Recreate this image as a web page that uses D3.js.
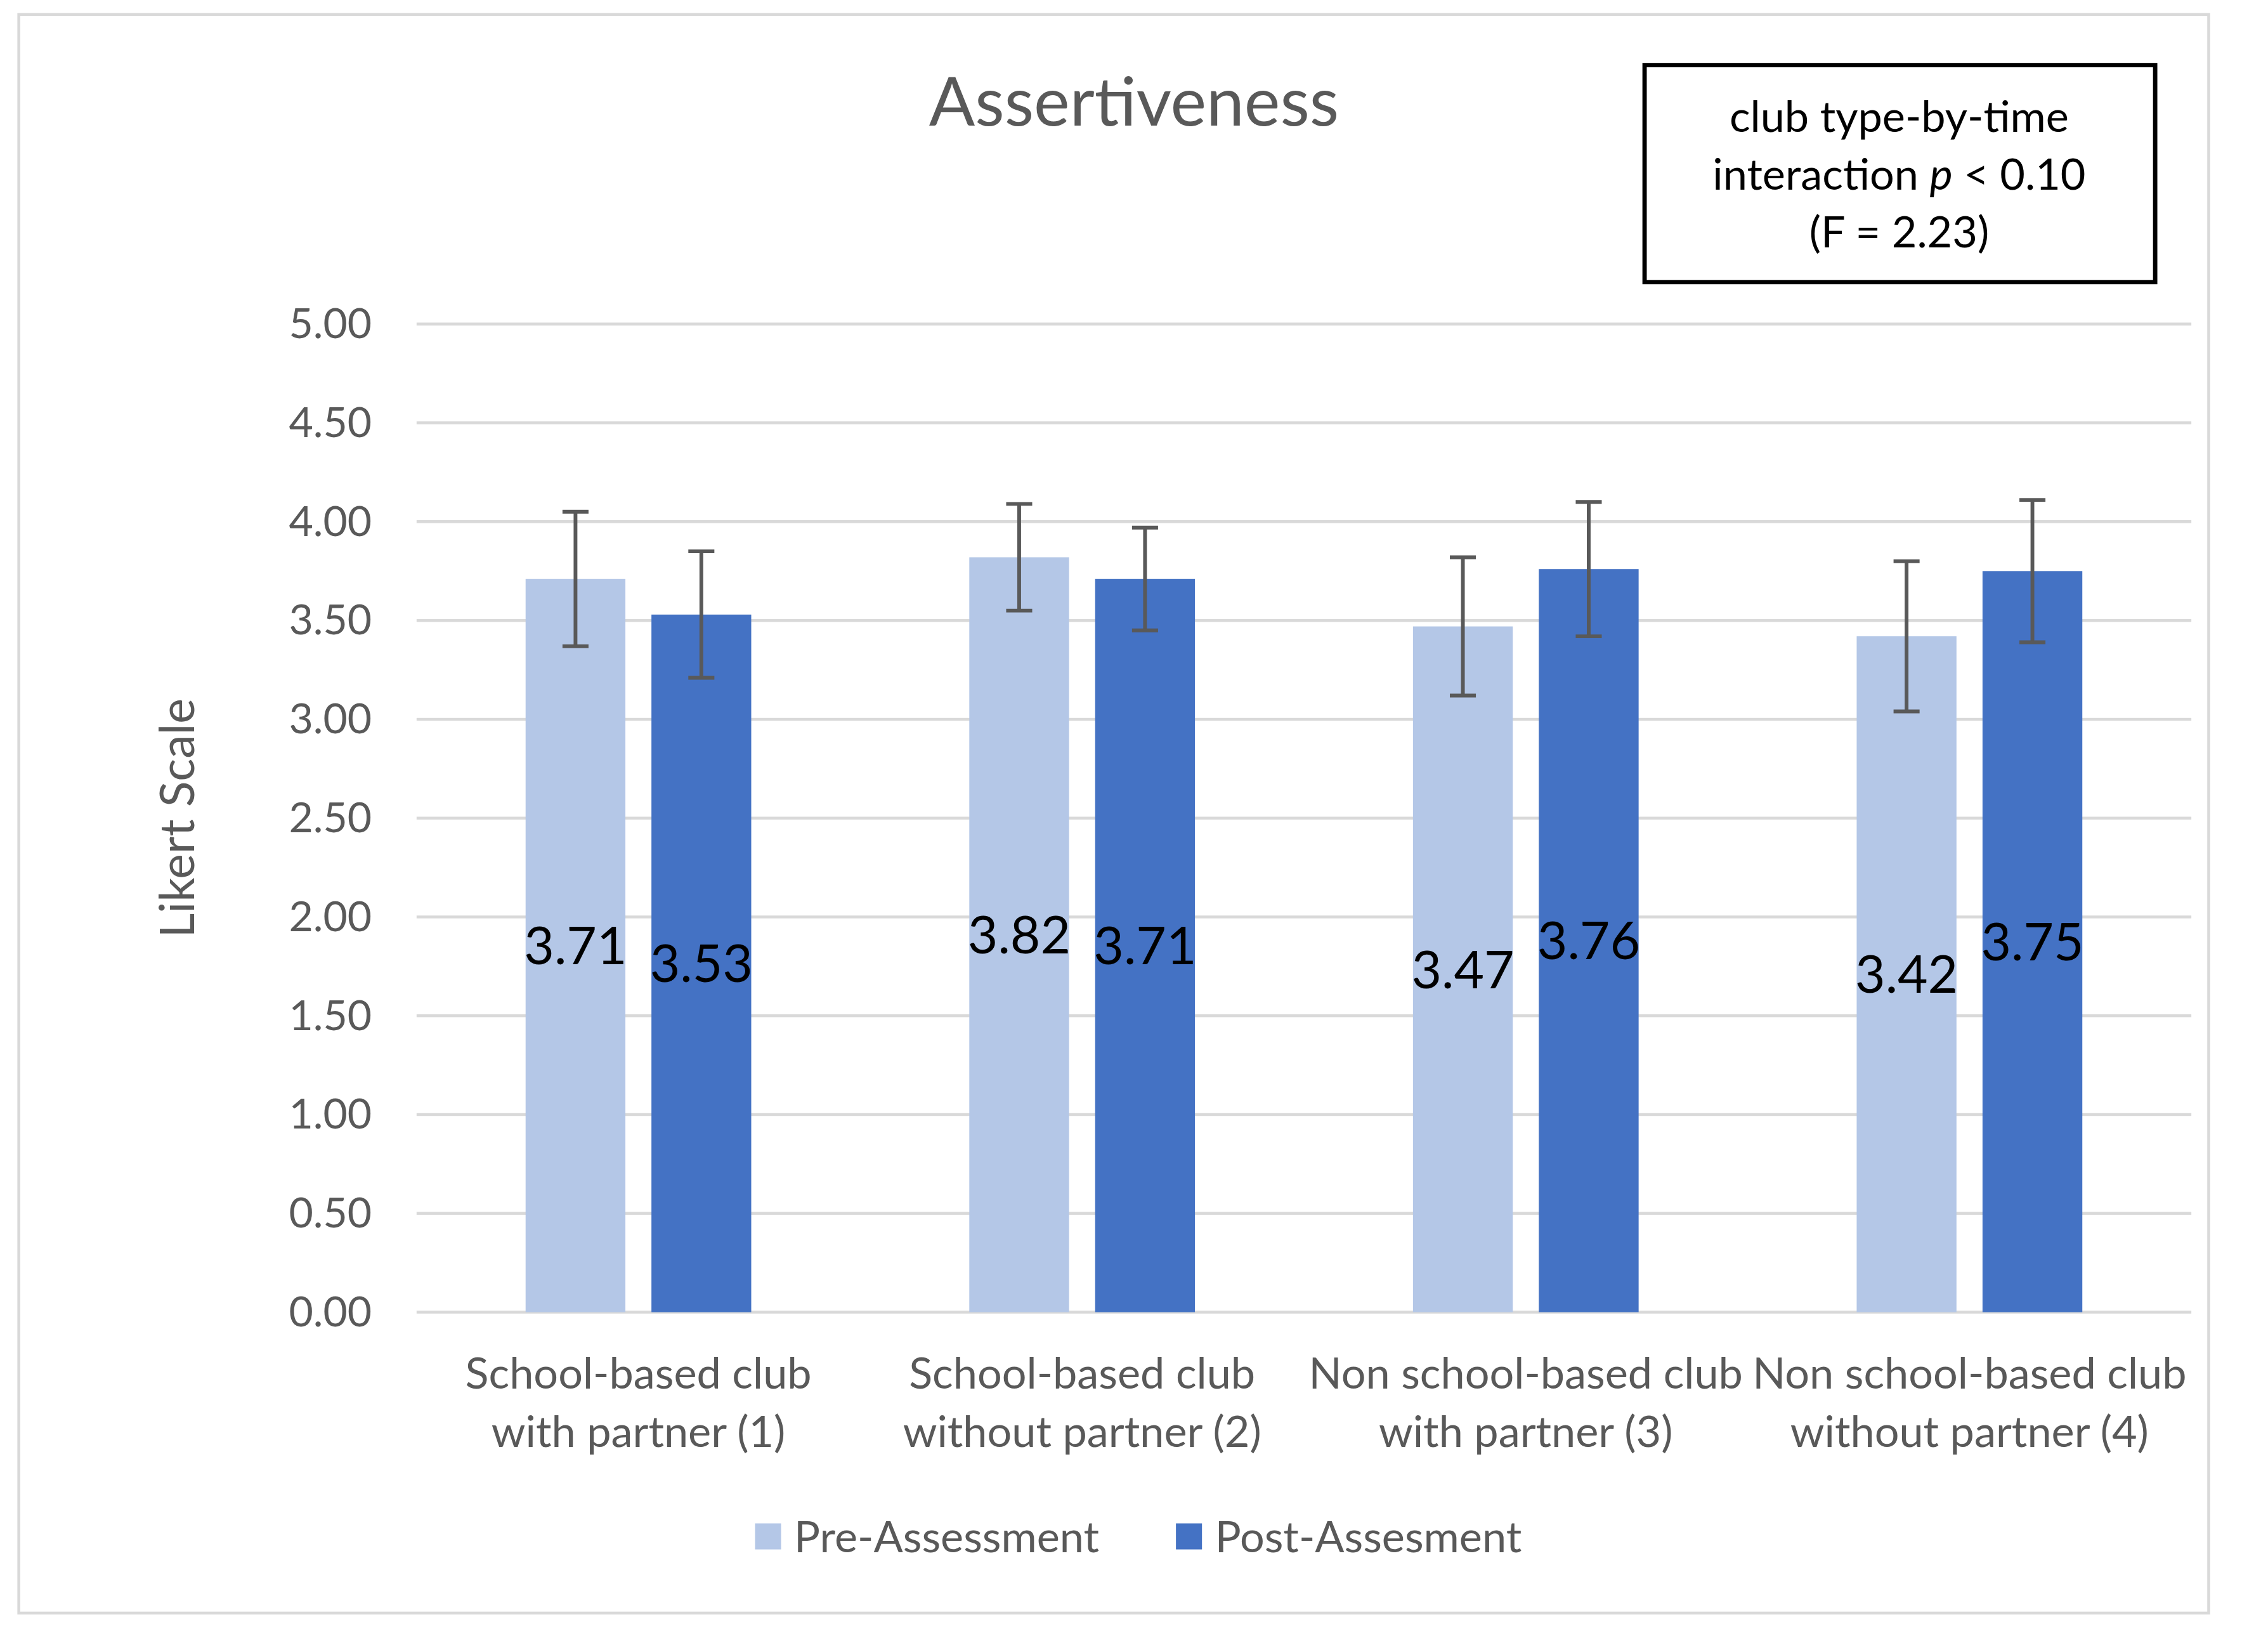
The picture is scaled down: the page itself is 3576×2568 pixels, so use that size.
<!DOCTYPE html>
<html>
<head>
<meta charset="utf-8">
<script src="https://cdn.jsdelivr.net/npm/d3@7/dist/d3.min.js"></script>
<style>
  body { margin: 0; background: #fff; }
  text { font-family: Lato, "Open Sans", sans-serif; }
</style>
</head>
<body>
<svg id="chart"></svg>
<script>
/* chart data */
const categories = [
    ["School-based club", "with partner (1)"],
    ["School-based club", "without partner (2)"],
    ["Non school-based club", "with partner (3)"],
    ["Non school-based club", "without partner (4)"]
];
const seriesNames = ["Pre-Assessment", "Post-Assesment"];
const preValues = [3.71, 3.82, 3.47, 3.42];
const postValues = [3.53, 3.71, 3.76, 3.75];
const preErrors = [0.34, 0.27, 0.35, 0.38];
const postErrors = [0.32, 0.26, 0.34, 0.36];
const yTicks = [0, 0.5, 1, 1.5, 2, 2.5, 3, 3.5, 4, 4.5, 5];
const titleText = "Assertiveness";
const yTitle = "Likert Scale";

const colors = ["#B4C7E7", "#4472C4"];
const textGray = "#595959";

// drawing in a 1568 wide frame, scaled up to the window
const W = 1568, H = 1126;
const svg = d3.select("#chart")
    .attr("width", 3576)
    .attr("height", 2568)
    .attr("viewBox", `0 0 ${W} ${H}`);

svg.append("rect")
    .attr("x", 13).attr("y", 10)
    .attr("width", 1514).attr("height", 1105)
    .attr("fill", "#fff")
    .attr("stroke", "#d9d9d9")
    .attr("stroke-width", 2);

const plotLeft = 288, plotRight = 1515, plotTop = 224, plotBottom = 907;

const x0 = d3.scaleBand()
    .domain(d3.range(categories.length))
    .range([plotLeft, plotRight]);
const bw = x0.bandwidth();
const x1 = d3.scaleBand()
    .domain([0, 1])
    .range([bw / 2 - 78, bw / 2 + 78])
    .paddingInner(0.207);
const y = d3.scaleLinear().domain([0, 5]).range([plotBottom, plotTop]);

// gridlines
svg.append("g").selectAll("line")
    .data(yTicks)
    .join("line")
    .attr("x1", plotLeft).attr("x2", plotRight)
    .attr("y1", d => y(d)).attr("y2", d => y(d))
    .attr("stroke", "#d9d9d9")
    .attr("stroke-width", 2);

// y axis labels
const yAxis = d3.axisLeft(y).tickValues(yTicks).tickFormat(d3.format(".2f")).tickSize(0).tickPadding(0);
const yg = svg.append("g").attr("transform", `translate(257,0)`).call(yAxis);
yg.select(".domain").remove();
yg.selectAll("text")
    .attr("fill", textGray)
    .style("font-size", "29px")
    .style("font-family", "Lato, sans-serif");

svg.append("text")
    .attr("transform", `translate(134,${(plotTop + plotBottom) / 2}) rotate(-90)`)
    .attr("text-anchor", "middle")
    .attr("fill", textGray)
    .style("font-size", "33px")
    .text(yTitle);

svg.append("text")
    .attr("x", 784).attr("y", 87)
    .attr("text-anchor", "middle")
    .attr("fill", textGray)
    .style("font-size", "47px")
    .text(titleText);

// bars
const rows = categories.map((c, i) => [
    { cat: i, s: 0, v: preValues[i], e: preErrors[i] },
    { cat: i, s: 1, v: postValues[i], e: postErrors[i] }
]).flat();

const groups = svg.append("g");
groups.selectAll("rect")
    .data(rows)
    .join("rect")
    .attr("x", d => x0(d.cat) + x1(d.s))
    .attr("y", d => y(d.v))
    .attr("width", x1.bandwidth())
    .attr("height", d => y(0) - y(d.v))
    .attr("fill", d => colors[d.s]);

// error bars
const cx = d => x0(d.cat) + x1(d.s) + x1.bandwidth() / 2;
const eb = svg.append("g").attr("stroke", textGray).attr("stroke-width", 2.6);
eb.selectAll("line.v")
    .data(rows)
    .join("line")
    .attr("class", "v")
    .attr("x1", cx).attr("x2", cx)
    .attr("y1", d => y(d.v + d.e)).attr("y2", d => y(d.v - d.e));
[1, -1].forEach(sign => {
    eb.selectAll("line.c" + (sign > 0 ? "t" : "b"))
        .data(rows)
        .join("line")
        .attr("class", "c" + (sign > 0 ? "t" : "b"))
        .attr("x1", d => cx(d) - 9).attr("x2", d => cx(d) + 9)
        .attr("y1", d => y(d.v + sign * d.e)).attr("y2", d => y(d.v + sign * d.e));
});

// value labels in the middle of the bars
svg.append("g").selectAll("text")
    .data(rows)
    .join("text")
    .attr("x", cx)
    .attr("y", d => (y(d.v) + y(0)) / 2)
    .attr("dy", "0.36em")
    .attr("text-anchor", "middle")
    .attr("fill", "#000")
    .style("font-size", "36px")
    .text(d => d3.format(".2f")(d.v));

// category labels
const cl = svg.append("g").selectAll("text")
    .data(categories)
    .join("text")
    .attr("text-anchor", "middle")
    .attr("fill", textGray)
    .style("font-size", "30px");
cl.each(function (d, i) {
    const t = d3.select(this);
    d.forEach((line, k) => {
        t.append("tspan")
            .attr("x", x0(i) + bw / 2)
            .attr("y", 960 + k * 40)
            .text(line);
    });
});

// legend
const legendX = [522, 813];
const lg = svg.append("g").selectAll("g")
    .data(seriesNames)
    .join("g")
    .attr("transform", (d, i) => `translate(${legendX[i]},1053)`);
lg.append("rect")
    .attr("width", 18).attr("height", 18)
    .attr("fill", (d, i) => colors[i]);
lg.append("text")
    .attr("x", 27).attr("y", 20)
    .attr("fill", textGray)
    .style("font-size", "30px")
    .text(d => d);

// annotation box
const box = svg.append("g");
box.append("rect")
    .attr("x", 1137).attr("y", 45)
    .attr("width", 353).attr("height", 150)
    .attr("fill", "#fff")
    .attr("stroke", "#000")
    .attr("stroke-width", 3);
const note = box.append("text")
    .attr("text-anchor", "middle")
    .attr("fill", "#000")
    .style("font-size", "30px");
note.append("tspan").attr("x", 1313).attr("y", 91).text("club type-by-time");
note.append("tspan").attr("x", 1313).attr("y", 131).text("interaction ");
note.append("tspan").style("font-style", "italic").text("p");
note.append("tspan").text(" < 0.10");
note.append("tspan").attr("x", 1313).attr("y", 171).text("(F = 2.23)");
</script>
</body>
</html>
